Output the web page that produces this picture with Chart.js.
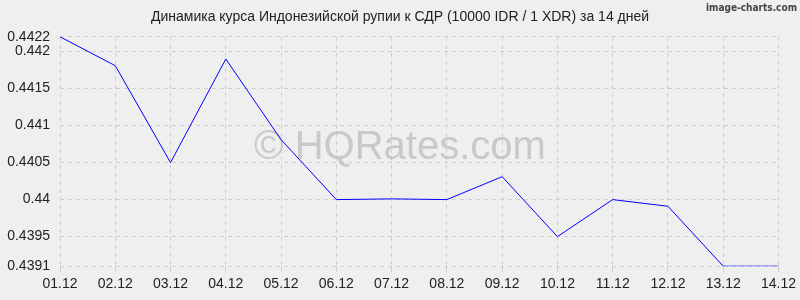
<!DOCTYPE html>
<html>
<head>
<meta charset="utf-8">
<script src="https://cdn.jsdelivr.net/npm/chart.js@4"></script>
<style>
  html, body { margin: 0; padding: 0; background: #efefef; }
  #wrap { width: 800px; height: 300px; }
</style>
</head>
<body>
<div id="wrap"><canvas id="rateChart" width="800" height="300"></canvas></div>
<script>
// data
const dates = ['01.12', '02.12', '03.12', '04.12', '05.12', '06.12', '07.12',
    '08.12', '09.12', '10.12', '11.12', '12.12', '13.12', '14.12'];
const rates = [0.4422, 0.44181, 0.4405, 0.4419, 0.44081, 0.44, 0.44001,
    0.44, 0.44031, 0.4395, 0.44, 0.43991, 0.4391, 0.4391];
const yTicks = [0.4391, 0.4395, 0.44, 0.4405, 0.441, 0.4415, 0.442, 0.4422];

const titleText = 'Динамика курса Индонезийской рупии к СДР (10000 IDR / 1 XDR) за 14 дней';

// background, watermark and corner label
const decor = {
    id: 'decor',
    afterLayout(chart) {
        // center the title on the whole canvas
        if (chart.titleBlock) {
            chart.titleBlock.left = 0;
            chart.titleBlock.right = chart.width;
        }
    },
    beforeDraw(chart) {
        const ctx = chart.ctx;
        ctx.save();
        ctx.fillStyle = '#efefef';
        ctx.fillRect(0, 0, chart.width, chart.height);
        ctx.restore();
    },
    beforeDatasetsDraw(chart) {
        const ctx = chart.ctx;
        ctx.save();
        ctx.fillStyle = 'rgba(175,175,175,0.6)';
        ctx.font = '40px "Liberation Sans", Arial, sans-serif';
        ctx.textAlign = 'center';
        ctx.textBaseline = 'middle';
        ctx.fillText('© HQRates.com', 400, 148);
        ctx.restore();
    },
    afterDraw(chart) {
        const ctx = chart.ctx;
        ctx.save();
        ctx.fillStyle = '#444';
        ctx.font = 'bold 10px "DejaVu Sans Condensed", "DejaVu Sans", sans-serif';
        ctx.textAlign = 'right';
        ctx.textBaseline = 'middle';
        ctx.fillText('image-charts.com', 797, 8);
        ctx.restore();
    }
};

new Chart(document.getElementById('rateChart'), {
    type: 'line',
    data: {
        labels: dates,
        datasets: [{
            data: rates,
            borderColor: '#0000ff',
            borderWidth: 1,
            pointRadius: 0,
            tension: 0,
            fill: false
        }]
    },
    options: {
        responsive: false,
        animation: false,
        layout: { padding: { left: 0, right: 21, top: 0, bottom: 3 } },
        plugins: {
            legend: { display: false },
            tooltip: { enabled: false },
            title: {
                display: true,
                text: titleText,
                color: '#222',
                font: { family: '"Liberation Sans", Arial, sans-serif', size: 14, weight: 'normal' },
                padding: { top: 9, bottom: 11 }
            }
        },
        scales: {
            x: {
                offset: false,
                grid: { color: '#cfcfcf', lineWidth: 1, tickLength: 6, tickColor: '#cfcfcf' },
                border: { display: false, dash: [4, 4] },
                ticks: {
                    color: '#222',
                    font: { family: '"Liberation Sans", Arial, sans-serif', size: 14 },
                    maxRotation: 0,
                    autoSkip: false,
                    padding: 4
                }
            },
            y: {
                min: 0.4391,
                max: 0.4422,
                afterBuildTicks(axis) {
                    axis.ticks = yTicks.map(v => ({ value: v }));
                },
                afterFit(axis) {
                    axis.width = 60;
                },
                grid: { color: '#cfcfcf', lineWidth: 1, drawTicks: false },
                border: { display: false, dash: [4, 4] },
                ticks: {
                    color: '#222',
                    font: { family: '"Liberation Sans", Arial, sans-serif', size: 14 },
                    padding: 10,
                    callback: v => String(+v.toFixed(4))
                }
            }
        }
    },
    plugins: [decor]
});
</script>
</body>
</html>
